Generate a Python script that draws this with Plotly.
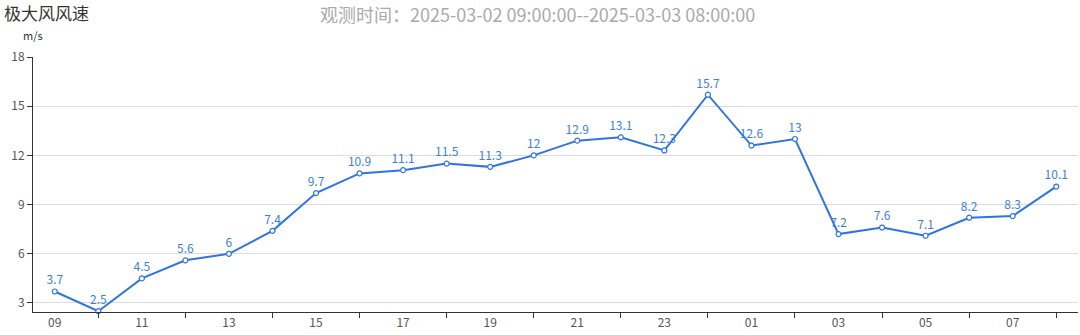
import plotly.graph_objects as go

hours = ["09","10","11","12","13","14","15","16","17","18","19","20",
         "21","22","23","00","01","02","03","04","05","06","07","08"]
speeds = [3.7, 2.5, 4.5, 5.6, 6, 7.4, 9.7, 10.9, 11.1, 11.5, 11.3, 12,
          12.9, 13.1, 12.3, 15.7, 12.6, 13, 7.2, 7.6, 7.1, 8.2, 8.3, 10.1]
y_ticks = [3, 6, 9, 12, 15, 18]

idx = list(range(len(hours)))
labels = [f"{v:g}" for v in speeds]

font = "Noto Sans CJK SC, Microsoft YaHei, sans-serif"
blue = "#2f74e0"

fig = go.Figure()
fig.add_trace(go.Scatter(
    x=idx, y=speeds, mode="lines+markers+text",
    line=dict(color=blue, width=2),
    marker=dict(symbol="circle", size=5, color="white",
                line=dict(color=blue, width=1.2)),
    text=labels, textposition="top center",
    textfont=dict(color="#3a80dc", size=12, family=font),
    cliponaxis=False, hoverinfo="skip", showlegend=False,
))

fig.update_layout(
    width=1080, height=335,
    margin=dict(l=33, r=2, t=57, b=23),
    paper_bgcolor="white", plot_bgcolor="white",
    font=dict(family=font, color="#555", size=12),
    annotations=[
        dict(text="极大风风速", xref="paper", yref="paper", x=-0.0295, y=1.0,
             xanchor="left", yanchor="bottom", yshift=30, showarrow=False,
             font=dict(size=17, color="#333", family=font)),
        dict(text="观测时间：2025-03-02 09:00:00--2025-03-03 08:00:00",
             xref="paper", yref="paper", x=0.4825, y=1.0, xanchor="center",
             yanchor="bottom", yshift=28, showarrow=False,
             font=dict(size=18, color="#aaaaaa", family=font)),
        dict(text="m/s", xref="paper", yref="paper", x=0.0, y=1.0,
             xanchor="center", yanchor="bottom", yshift=12, showarrow=False,
             font=dict(size=11, color="#333", family=font)),
    ],
)

fig.update_xaxes(
    range=[-0.5, len(hours) - 0.5],
    tickmode="array", tickvals=idx[::2], ticktext=hours[::2],
    ticks="", showgrid=False, zeroline=False,
    showline=True, linecolor="#333", linewidth=1,
    tickfont=dict(size=12, color="#555"),
    minor=dict(tick0=1, dtick=2, ticks="outside", ticklen=5,
               tickcolor="#333", showgrid=False),
)
fig.update_yaxes(
    range=[2.45, 18], tickmode="array", tickvals=y_ticks,
    ticks="outside", ticklen=5, tickcolor="#333",
    showgrid=True, gridcolor="#dddddd", gridwidth=1, zeroline=False,
    showline=True, linecolor="#333", linewidth=1,
    tickfont=dict(size=12, color="#555"),
)

fig.write_html("out.html")
